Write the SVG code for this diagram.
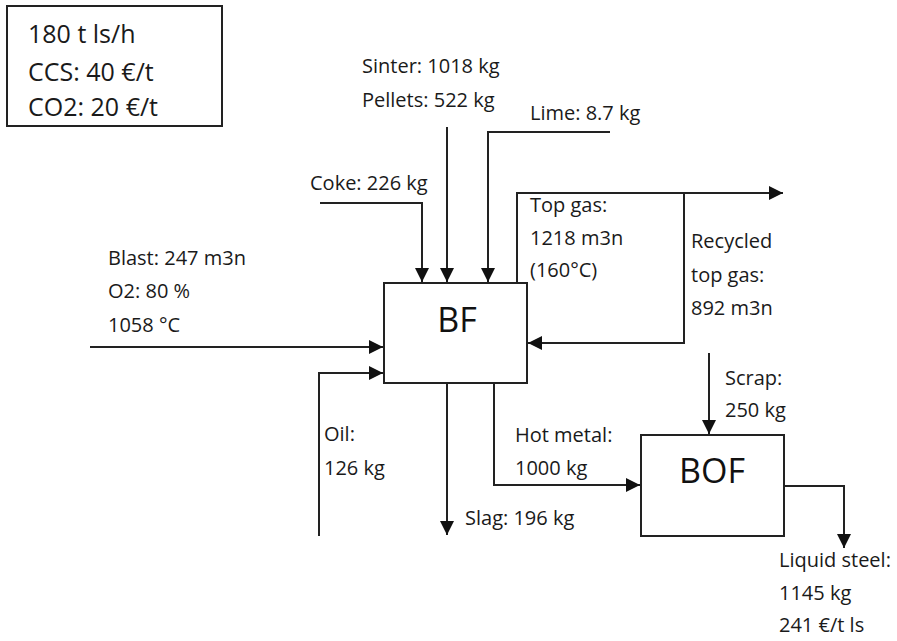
<svg xmlns="http://www.w3.org/2000/svg" width="897" height="641" viewBox="0 0 897 641">
<defs>
<marker id="ah" markerUnits="userSpaceOnUse" markerWidth="15" markerHeight="14" refX="14" refY="7" orient="auto">
<path d="M0,0 L14,7 L0,14 z" fill="#111"/>
</marker>
<style>
.box{fill:#fff;stroke:#222;stroke-width:2}
.ln{fill:none;stroke:#222;stroke-width:2}
.t{font-family:"Open Sans","Liberation Sans",sans-serif;font-size:20px;fill:#1a1a1a}
.tb{font-family:"Open Sans","Liberation Sans",sans-serif;font-size:25px;fill:#1a1a1a}
.tn{font-family:"Open Sans","Liberation Sans",sans-serif;font-size:34px;fill:#111;text-anchor:middle}
</style>
</defs>
<rect width="897" height="641" fill="#fff"/>
<g id="info">
<rect class="box" x="7" y="6" width="215" height="120"/>
<text class="tb" x="28" y="43">180 t ls/h</text>
<text class="tb" x="28" y="81">CCS: 40 €/t</text>
<text class="tb" x="28" y="116">CO2: 20 €/t</text>
</g>
<g id="connectors">
<path class="ln" d="M320,203 H422 V282" marker-end="url(#ah)"/>
<path class="ln" d="M447,127 V282" marker-end="url(#ah)"/>
<path class="ln" d="M610,132 H488 V282" marker-end="url(#ah)"/>
<path class="ln" d="M517,283 V193 H783" marker-end="url(#ah)"/>
<path class="ln" d="M684,193 V343 H528" marker-end="url(#ah)"/>
<path class="ln" d="M90,347 H383" marker-end="url(#ah)"/>
<path class="ln" d="M319,536 V373 H383" marker-end="url(#ah)"/>
<path class="ln" d="M447,383 V535" marker-end="url(#ah)"/>
<path class="ln" d="M494,383 V485 H640" marker-end="url(#ah)"/>
<path class="ln" d="M709,353 V434" marker-end="url(#ah)"/>
<path class="ln" d="M784,486 H844 V548" marker-end="url(#ah)"/>
</g>
<g id="BF">
<rect class="box" x="384" y="283" width="143" height="100"/>
<text class="tn" x="457" y="332">BF</text>
</g>
<g id="BOF">
<rect class="box" x="641" y="435" width="143" height="101"/>
<text class="tn" x="712" y="483">BOF</text>
</g>
<g id="labels">
<text class="t" x="362" y="73">Sinter: 1018 kg</text>
<text class="t" x="362" y="107">Pellets: 522 kg</text>
<text class="t" x="530" y="120">Lime: 8.7 kg</text>
<text class="t" x="310" y="190">Coke: 226 kg</text>
<text class="t" x="530" y="212">Top gas:</text>
<text class="t" x="530" y="245">1218 m3n</text>
<text class="t" x="530" y="277">(160°C)</text>
<text class="t" x="691" y="248">Recycled</text>
<text class="t" x="691" y="282">top gas:</text>
<text class="t" x="691" y="315">892 m3n</text>
<text class="t" x="108" y="265">Blast: 247 m3n</text>
<text class="t" x="108" y="298">O2: 80 %</text>
<text class="t" x="108" y="332">1058 °C</text>
<text class="t" x="725" y="385">Scrap:</text>
<text class="t" x="725" y="417">250 kg</text>
<text class="t" x="324" y="441">Oil:</text>
<text class="t" x="324" y="475">126 kg</text>
<text class="t" x="515" y="442">Hot metal:</text>
<text class="t" x="515" y="475">1000 kg</text>
<text class="t" x="465" y="525">Slag: 196 kg</text>
<text class="t" x="779" y="567">Liquid steel:</text>
<text class="t" x="779" y="600">1145 kg</text>
<text class="t" x="779" y="632">241 €/t ls</text>
</g>
</svg>
